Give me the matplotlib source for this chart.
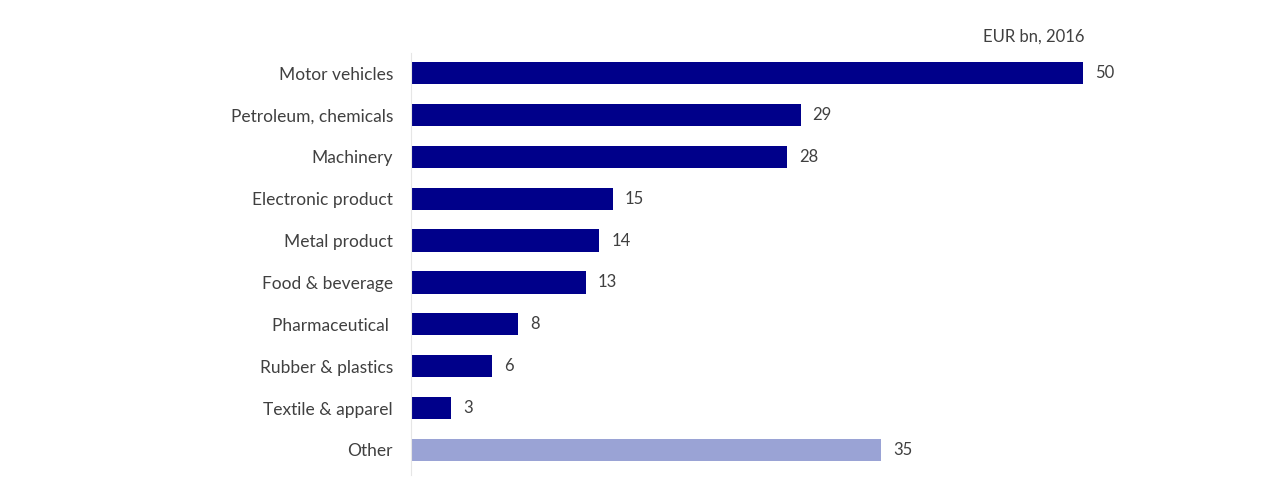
import matplotlib.pyplot as plt

# data (EUR bn, 2016)
categories = ['Motor vehicles', 'Petroleum, chemicals', 'Machinery', 'Electronic product',
              'Metal product', 'Food & beverage', 'Pharmaceutical ', 'Rubber & plastics',
              'Textile & apparel', 'Other']
values = [50, 29, 28, 15, 14, 13, 8, 6, 3, 35]
unit_label = 'EUR bn, 2016'

NAVY = '#00008a'
LIGHT = '#9aa3d5'
TEXT = '#404040'

plt.rcParams['font.family'] = ['Lato', 'DejaVu Sans']

fig = plt.figure(figsize=(12.8, 4.88), dpi=100)
ax = fig.add_axes([411 / 1280, 13 / 488, 806 / 1280, (475 - 53) / 488])

colors = [LIGHT if c == 'Other' else NAVY for c in categories]
ypos = list(range(len(categories)))
ax.barh(ypos, values, height=0.53, color=colors)

for y, v in zip(ypos, values):
    ax.text(v + 0.9, y, f'{v}', va='center', ha='left', fontsize=12, color=TEXT)

ax.set_xlim(0, 60)
ax.set_ylim(9.6, -0.48)
ax.set_yticks(ypos)
ax.set_yticklabels(categories, fontsize=12.5, color=TEXT)
ax.tick_params(axis='y', length=0, pad=13)
ax.set_xticks([])

for side in ['top', 'right', 'bottom']:
    ax.spines[side].set_visible(False)
ax.spines['left'].set_color('#e6e6e6')
ax.spines['left'].set_linewidth(0.8)

ax.text(50.1, -0.86, unit_label, ha='right', va='center', fontsize=12, color=TEXT)

fig.savefig('out.png', dpi=100)
